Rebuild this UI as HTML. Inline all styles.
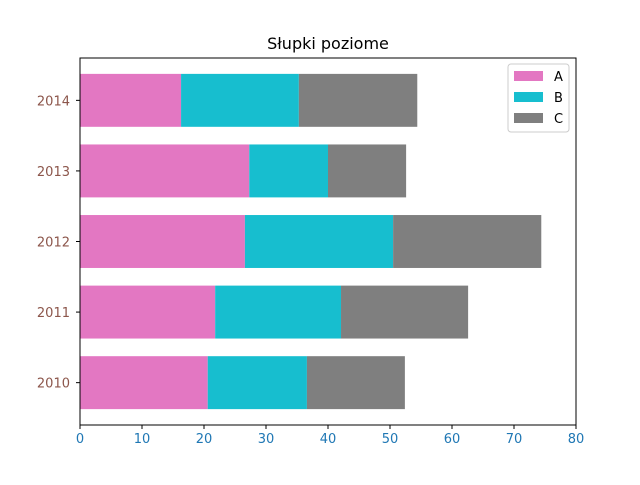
<!DOCTYPE html>
<html><head><meta charset="utf-8"><style>
body{margin:0;background:#fff;font-family:"Liberation Sans","DejaVu Sans",sans-serif;}
</style></head><body>
<svg id="chart" width="640" height="480" xmlns="http://www.w3.org/2000/svg">
<rect width="640" height="480" fill="#fff"/>
<text x="328" y="49" text-anchor="middle" font-size="16" fill="#000" font-family="DejaVu Sans, Liberation Sans, sans-serif">Słupki poziome</text>
<g id="bars"></g>
<g id="axes"></g>
<g id="legend"></g>
</svg>
<script>
const categories = ["2010","2011","2012","2013","2014"];
const seriesNames = ["A","B","C"];
const seriesA = [20.6, 21.8, 26.6, 27.3, 16.3];
const seriesB = [16.0, 20.3, 23.9, 12.7, 19.0];
const seriesC = [15.8, 20.5, 23.9, 12.6, 19.1];
const xTicks = [0,10,20,30,40,50,60,70,80];
const colors = ["#e377c2","#17becf","#7f7f7f"];
const NS="http://www.w3.org/2000/svg";
const L=80,R=576,T=58,B=425;
const x=v=>L+(v/80)*(R-L);
const y=i=>B-(i+0.6)/5.2*(B-T);
const bh=0.75/5.2*(B-T);
function mk(tag,attrs,parent){const e=document.createElementNS(NS,tag);for(const k in attrs)e.setAttribute(k,attrs[k]);parent.appendChild(e);return e;}
const bars=document.getElementById('bars');
const series=[seriesA,seriesB,seriesC];
categories.forEach((c,i)=>{
  let acc=0;
  series.forEach((s,j)=>{
    const r=mk('rect',{x:x(acc),y:y(i)-bh/2,width:x(acc+s[i])-x(acc),height:bh,fill:colors[j]},bars);
    
    
    acc+=s[i];
  });
});
const ax=document.getElementById('axes');
const frame=mk('rect',{x:L,y:T,width:R-L,height:B-T,fill:'none',stroke:'#000','stroke-width':1},ax);


xTicks.forEach(t=>{
  mk('line',{x1:x(t),x2:x(t),y1:B,y2:B+4,stroke:'#000'},ax);
  const tx=mk('text',{x:x(t),y:B+18,'text-anchor':'middle','font-size':13,fill:'#1f77b4','font-family':'DejaVu Sans, sans-serif'},ax);
  tx.textContent=t;
  
  
});
categories.forEach((c,i)=>{
  mk('line',{x1:L-4,x2:L,y1:y(i),y2:y(i),stroke:'#000'},ax);
  const tx=mk('text',{x:L-10,y:y(i)+5,'text-anchor':'end','font-size':13,fill:'#8c564b','font-family':'DejaVu Sans, sans-serif'},ax);
  tx.textContent=c;
  
  
});
const lg=document.getElementById('legend');
const box=mk('rect',{x:508,y:64,width:61,height:68,fill:'#fff',stroke:'#ccc',rx:3},lg);


seriesNames.forEach((n,j)=>{
  const yy=76+j*21;
  const sw=mk('rect',{x:514,y:yy-5,width:29,height:10,fill:colors[j]},lg);
  
  
  const t=mk('text',{x:554,y:yy+5,'font-size':13,fill:'#000','font-family':'DejaVu Sans, sans-serif'},lg);
  t.textContent=n;
  
  
});
</script>
</body></html>
